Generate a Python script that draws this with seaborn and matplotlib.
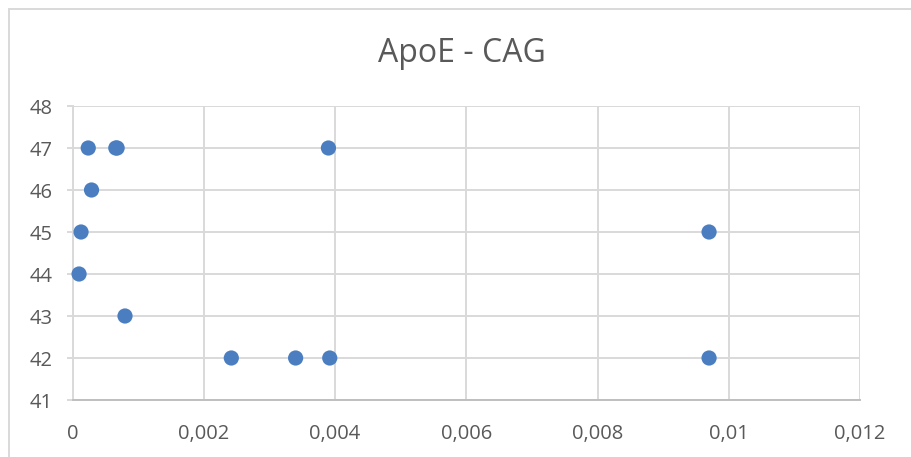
import matplotlib
matplotlib.use("Agg")
import matplotlib.pyplot as plt
from matplotlib.lines import Line2D
from matplotlib.ticker import MultipleLocator, FuncFormatter
import seaborn as sns
import pandas as pd

# ApoE level vs CAG repeat length
apoe = [0.00024, 0.00066, 0.00068, 0.00390, 0.00029, 0.00013, 0.00970,
        0.00010, 0.00080, 0.00242, 0.00340, 0.00392, 0.00970]
cag = [47, 47, 47, 47, 46, 45, 45, 44, 43, 42, 42, 42, 42]
title = "ApoE - CAG"

df = pd.DataFrame({"ApoE": apoe, "CAG": cag})

sns.set_theme(style="white")
plt.rcParams["font.family"] = ["Open Sans", "DejaVu Sans"]

W, H = 911, 457
fig = plt.figure(figsize=(W / 100, H / 100), dpi=100)
fig.patch.set_facecolor("white")

# plot area in pixel coordinates
left, right, top, bottom = 72.5, 860, 106, 400
ax = fig.add_axes([left / W, (H - bottom) / H, (right - left) / W, (bottom - top) / H])

grid_c = "#D9D9D9"
text_c = "#595959"

sns.scatterplot(data=df, x="ApoE", y="CAG", ax=ax, s=120, color="#4A7EC0",
                edgecolor="none", linewidth=0, zorder=3, clip_on=False)

ax.set_xlim(0, 0.012)
ax.set_ylim(41, 48)
ax.xaxis.set_major_locator(MultipleLocator(0.002))
ax.yaxis.set_major_locator(MultipleLocator(1))
ax.xaxis.set_major_formatter(FuncFormatter(lambda v, p: ("%g" % round(v, 6)).replace(".", ",")))
ax.yaxis.set_major_formatter(FuncFormatter(lambda v, p: "%d" % round(v)))

ax.grid(True, color=grid_c, linewidth=1.4)
ax.set_axisbelow(True)
for s in ("top", "right"):
    ax.spines[s].set_visible(False)
ax.spines["left"].set_color(grid_c)
ax.spines["left"].set_linewidth(1.4)
ax.spines["bottom"].set_color("#BFBFBF")
ax.spines["bottom"].set_linewidth(1.4)

ax.tick_params(axis="y", length=4, width=1.4, color=grid_c, labelsize=14.5,
               labelcolor=text_c, pad=10, left=True)
ax.tick_params(axis="x", length=0, labelsize=14.5, labelcolor=text_c, pad=17, bottom=False)
ax.set_xlabel("")
ax.set_ylabel("")

fig.text(462 / W, 1 - 54 / H, title, ha="center", va="center",
         fontsize=23, color=text_c)

# chart frame
fig.add_artist(Line2D([8.5 / W, 1], [1 - 8.5 / H, 1 - 8.5 / H], color=grid_c,
                      linewidth=1.4, transform=fig.transFigure))
fig.add_artist(Line2D([8.5 / W, 8.5 / W], [0, 1 - 8.5 / H], color=grid_c,
                      linewidth=1.4, transform=fig.transFigure))

fig.savefig("out.png", dpi=100, facecolor="white")
